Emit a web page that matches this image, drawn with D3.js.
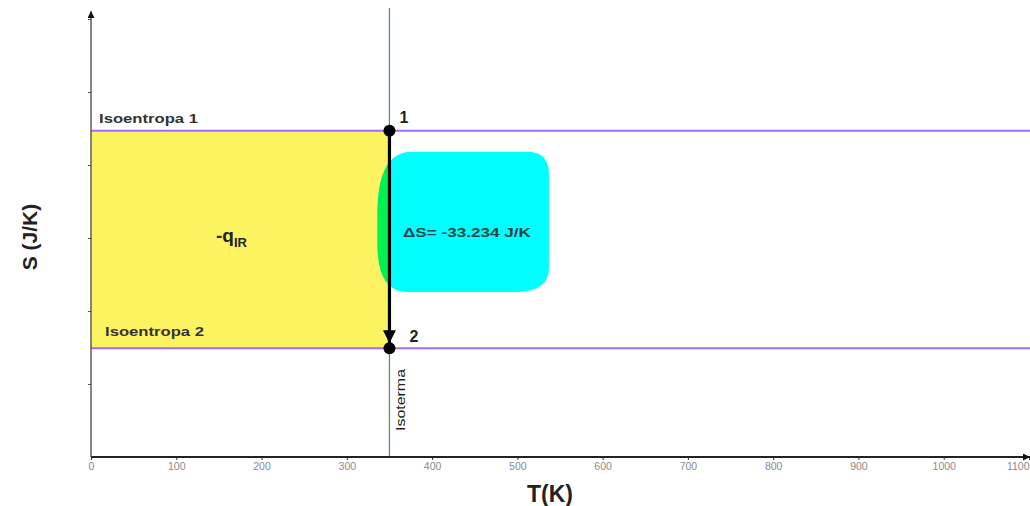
<!DOCTYPE html>
<html>
<head>
<meta charset="utf-8">
<script src="https://cdn.jsdelivr.net/npm/d3@7"></script>
<style>
  body { margin: 0; background: #fff; }
  text { font-family: Arial, "Liberation Sans", sans-serif; }
</style>
</head>
<body>
<svg id="chart" width="1030" height="506"></svg>
<script>
// axis ticks
const tTicks = [0, 100, 200, 300, 400, 500, 600, 700, 800, 900, 1000, 1100];
const sTicks = [0, 1, 2, 3, 4, 5, 6];

// process values
const isotermaT = 350;
const isoentropaS = [4.47, 1.49];   // state 1, state 2
const isoentropaLabels = ["Isoentropa 1", "Isoentropa 2"];
const pointLabels = ["1", "2"];
const deltaSLabel = "ΔS= -33.234 J/K";

// cyan note box, in data units
const noteT = [336, 537];
const noteS = [2.26, 4.18];

const width = 1030,
  height = 506,
  x0 = 91, x1 = 1029,
  y0 = 457;

const svg = d3.select("#chart");

const x = d3.scaleLinear().domain([0, 1100]).range([x0, x1]);
const y = d3.scaleLinear().domain([0, 6]).range([y0, y0 - 6 * 73]);

// yellow area under the isotherm between isentropes
svg.append("rect")
  .attr("x", x(0))
  .attr("y", y(isoentropaS[0]))
  .attr("width", x(isotermaT) - x(0))
  .attr("height", y(isoentropaS[1]) - y(isoentropaS[0]))
  .attr("fill", "#fbf35f");

// note box: rounded blob with individual corner radii
function blob(l, t, r, b) {
  const tl = [34, 62], tr = [22, 22], br = [34, 24], bl = [30, 48];
  return "M" + (l + tl[0]) + "," + t +
    "L" + (r - tr[0]) + "," + t +
    "Q" + r + "," + t + " " + r + "," + (t + tr[1]) +
    "L" + r + "," + (b - br[1]) +
    "Q" + r + "," + b + " " + (r - br[0]) + "," + b +
    "L" + (l + bl[0]) + "," + b +
    "Q" + l + "," + b + " " + l + "," + (b - bl[1]) +
    "L" + l + "," + (t + tl[1]) +
    "Q" + l + "," + t + " " + (l + tl[0]) + "," + t + "Z";
}
const blobPath = blob(x(noteT[0]), y(noteS[1]), x(noteT[1]), y(noteS[0]));

svg.append("path").attr("d", blobPath).attr("fill", "#00ffff");

// part of the blob lying over the yellow area shows green
svg.append("clipPath").attr("id", "yellowClip")
  .append("rect")
  .attr("x", x(0))
  .attr("y", y(isoentropaS[0]))
  .attr("width", x(isotermaT) - x(0))
  .attr("height", y(isoentropaS[1]) - y(isoentropaS[0]));
svg.append("path").attr("d", blobPath).attr("fill", "#00f050")
  .attr("clip-path", "url(#yellowClip)");

// isentropes
svg.selectAll(".isoentropa")
  .data(isoentropaS)
  .enter().append("line")
  .attr("class", "isoentropa")
  .attr("x1", x(0)).attr("x2", width)
  .attr("y1", d => y(d)).attr("y2", d => y(d))
  .attr("stroke", "#a46cf2")
  .attr("stroke-width", 2);

// isotherm
svg.append("line")
  .attr("x1", x(isotermaT)).attr("x2", x(isotermaT))
  .attr("y1", 8).attr("y2", y0)
  .attr("stroke", "#4a9f5a")
  .attr("stroke-width", 1.3);

// axes
const defs = svg.append("defs");
defs.append("marker")
  .attr("id", "axisArrow")
  .attr("viewBox", "0 0 10 10")
  .attr("refX", 10).attr("refY", 5)
  .attr("markerWidth", 8).attr("markerHeight", 7)
  .attr("markerUnits", "userSpaceOnUse")
  .attr("orient", "auto")
  .append("path").attr("d", "M0,0L10,5L0,10Z").attr("fill", "#111");
defs.append("marker")
  .attr("id", "procArrow")
  .attr("viewBox", "0 0 10 10")
  .attr("refX", 10).attr("refY", 5)
  .attr("markerWidth", 16).attr("markerHeight", 13)
  .attr("markerUnits", "userSpaceOnUse")
  .attr("orient", "auto")
  .append("path").attr("d", "M0,0L10,5L0,10Z").attr("fill", "#000");

const xAxis = svg.append("g")
  .attr("transform", "translate(0," + y0 + ")")
  .call(d3.axisBottom(x).tickValues(tTicks).tickSize(3).tickPadding(3)
    .tickFormat(d3.format("d")));
xAxis.select(".domain").remove();
xAxis.selectAll(".tick line").attr("stroke", "#333");
xAxis.selectAll(".tick text")
  .attr("fill", "#8a8a8a")
  .style("font-size", "10.5px")
  .attr("text-anchor", d => d === 1100 ? "end" : "middle");

const yAxis = svg.append("g")
  .attr("transform", "translate(" + x0 + ",0)")
  .call(d3.axisLeft(y).tickValues(sTicks.slice(1)).tickSize(3).tickFormat(""));
yAxis.select(".domain").remove();
yAxis.selectAll(".tick line").attr("stroke", "#555");

svg.append("line")
  .attr("x1", x0).attr("x2", width)
  .attr("y1", y0).attr("y2", y0)
  .attr("stroke", "#222").attr("stroke-width", 1.8)
  .attr("marker-end", "url(#axisArrow)");
svg.append("line")
  .attr("x1", x0).attr("x2", x0)
  .attr("y1", y0).attr("y2", 11)
  .attr("stroke", "#444").attr("stroke-width", 1.3)
  .attr("marker-end", "url(#axisArrow)");

// process 1 -> 2
svg.append("line")
  .attr("x1", x(isotermaT)).attr("x2", x(isotermaT))
  .attr("y1", y(isoentropaS[0])).attr("y2", y(isoentropaS[1]) - 5)
  .attr("stroke", "#000").attr("stroke-width", 3.2)
  .attr("marker-end", "url(#procArrow)");

svg.selectAll(".state")
  .data(isoentropaS)
  .enter().append("circle")
  .attr("class", "state")
  .attr("cx", x(isotermaT))
  .attr("cy", d => y(d))
  .attr("r", 6)
  .attr("fill", "#000");

// labels
svg.selectAll(".isoLabel")
  .data(isoentropaLabels)
  .enter().append("text")
  .attr("class", "isoLabel")
  .attr("x", (d, i) => i === 0 ? 99 : 105)
  .attr("y", (d, i) => y(isoentropaS[i]) - (i === 0 ? 8 : 12))
  .attr("fill", "#333")
  .attr("textLength", 99)
  .attr("lengthAdjust", "spacingAndGlyphs")
  .style("font-size", "12px")
  .style("font-weight", "bold")
  .text(d => d);

svg.selectAll(".pointLabel")
  .data(pointLabels)
  .enter().append("text")
  .attr("class", "pointLabel")
  .attr("x", (d, i) => x(isotermaT) + (i === 0 ? 10 : 20))
  .attr("y", (d, i) => y(isoentropaS[i]) - (i === 0 ? 8 : 6))
  .attr("fill", "#222")
  .style("font-size", "16px")
  .style("font-weight", "bold")
  .text(d => d);

const q = svg.append("text")
  .attr("x", 216).attr("y", 242)
  .attr("fill", "#222")
  .style("font-size", "19px")
  .style("font-weight", "bold");
q.append("tspan").text("-q");
q.append("tspan").attr("dy", 5).style("font-size", "13px").text("IR");

svg.append("text")
  .attr("x", 403).attr("y", 237)
  .attr("fill", "#1c4444")
  .attr("textLength", 128)
  .attr("lengthAdjust", "spacingAndGlyphs")
  .style("font-size", "13px")
  .style("font-weight", "bold")
  .text(deltaSLabel);

svg.append("text")
  .attr("transform", "translate(405,431) rotate(-90)")
  .attr("fill", "#222")
  .attr("textLength", 62)
  .attr("lengthAdjust", "spacingAndGlyphs")
  .style("font-size", "12px")
  .text("Isoterma");

svg.append("text")
  .attr("transform", "translate(37,237) rotate(-90)")
  .attr("text-anchor", "middle")
  .attr("fill", "#222")
  .style("font-size", "21px")
  .style("font-weight", "bold")
  .text("S (J/K)");

svg.append("text")
  .attr("x", 550).attr("y", 502)
  .attr("text-anchor", "middle")
  .attr("fill", "#222")
  .style("font-size", "23px")
  .style("font-weight", "bold")
  .text("T(K)");
</script>
</body>
</html>
